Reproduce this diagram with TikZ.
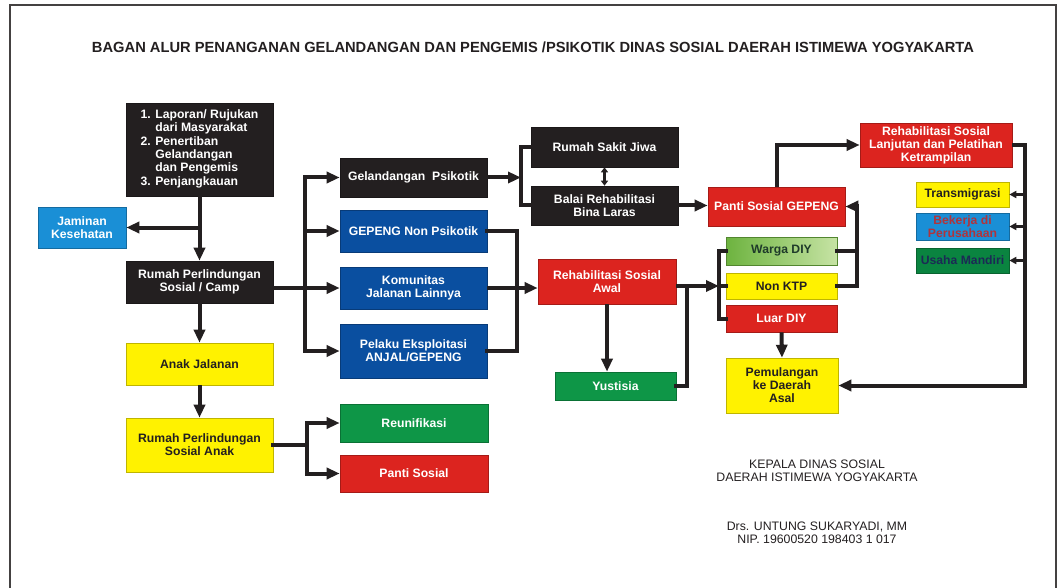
\documentclass[tikz,border=0pt]{standalone}
\usepackage{fontspec}
\setmainfont{Liberation Sans}
\usepackage{xcolor}
\usetikzlibrary{positioning, arrows.meta}
\definecolor{hitam}{HTML}{231F20}
\definecolor{biru}{HTML}{0A4FA0}
\definecolor{langit}{HTML}{1A8FD6}
\definecolor{merah}{HTML}{DC241F}
\definecolor{kuning}{HTML}{FFF200}
\definecolor{hijau}{HTML}{0E9647}
\definecolor{hijaut}{HTML}{0A8440}
\definecolor{wargaA}{HTML}{6DB33F}
\definecolor{wargaB}{HTML}{C6E3A4}
\definecolor{marun}{HTML}{B0343C}
\definecolor{navy}{HTML}{1B2A55}
\definecolor{hijaugelap}{HTML}{1F3B2A}

\begin{document}
\begin{tikzpicture}[
  x=1pt, y=-1pt,
  box/.style n args={2}{
    rectangle, fill=#1, draw=#1!75!black, line width=0.6pt, text=#2,
    font=\fontsize{12.2}{13}\selectfont\bfseries,
    align=center, inner sep=2pt
  },
  judul/.style={
    font=\fontsize{14.7}{16}\selectfont\bfseries, text=hitam, inner sep=0pt
  },
  ttd/.style={
    font=\fontsize{12.3}{13.5}\selectfont, text=hitam, align=center, inner sep=0pt
  },
  link/.style={
    line width=4pt, line cap=rect, color=hitam
  },
  flow/.style={
    line width=4pt, -{Triangle[length=13pt, width=11pt]}, color=hitam
  },
  flowsm/.style={
    line width=2.6pt, -{Triangle[length=7pt, width=7pt]}, color=hitam
  },
  dbl/.style={
    line width=2.6pt, {Triangle[length=5pt, width=7pt]}-{Triangle[length=5pt, width=7pt]}, color=hitam
  }
]

\useasboundingbox (0,0) rectangle (1057,588);
\draw[line width=2pt, color=hitam!85] (10,588) -- (10,5) -- (1056,5) -- (1056,588);

%% column x-positions
\def\xA{199.5}
\def\xB{413.5}
\def\xC{604.5}
\def\xD{781.5}
\def\xE{962.5}

%% === TITLE ===
\node[judul] (judul) at (533,47) {BAGAN ALUR PENANGANAN GELANDANGAN DAN PENGEMIS /PSIKOTIK DINAS SOSIAL DAERAH ISTIMEWA YOGYAKARTA};

%% === COLUMN 1 ===
\node[box={hitam}{white}, minimum width=147pt, minimum height=93pt] (lapor) at (\xA,149.5)
  {\begin{tabular}{@{}l@{ }l@{}}1. & Laporan/ Rujukan\\ & dari Masyarakat\\[1pt]
   2. & Penertiban\\ & Gelandangan\\ & dan Pengemis\\[1pt] 3. & Penjangkauan\end{tabular}};
\node[box={langit}{white}, minimum width=88pt, minimum height=41pt] (jamin) at (82,227.5) {Jaminan\\Kesehatan};
\node[box={hitam}{white}, minimum width=147pt, minimum height=42pt] (camp) at (\xA,282) {Rumah Perlindungan\\Sosial / Camp};
\node[box={kuning}{hitam}, minimum width=147pt, minimum height=42pt] (anak) at (\xA,364) {Anak Jalanan};
\node[box={kuning}{hitam}, minimum width=147pt, minimum height=54pt] (rpsa) at (\xA,445) {Rumah Perlindungan\\Sosial Anak};

%% === COLUMN 2 ===
\node[box={hitam}{white}, minimum width=147pt, minimum height=39pt] (psiko) at (\xB,177.5) {Gelandangan\ \ Psikotik};
\node[box={biru}{white}, minimum width=147pt, minimum height=42pt] (nonpsi) at (\xB,231) {GEPENG Non Psikotik};
\node[box={biru}{white}, minimum width=147pt, minimum height=42pt] (komun) at (\xB,288) {Komunitas\\Jalanan Lainnya};
\node[box={biru}{white}, minimum width=147pt, minimum height=54pt] (pelaku) at (\xB,351) {Pelaku Eksploitasi\\ANJAL/GEPENG};
\node[box={hijau}{white}, minimum width=148pt, minimum height=38pt] (reuni) at (414,423) {Reunifikasi};
\node[box={merah}{white}, minimum width=148pt, minimum height=37pt] (panti) at (414,473.5) {Panti Sosial};

%% === COLUMN 3 ===
\node[box={hitam}{white}, minimum width=147pt, minimum height=40pt] (rsj) at (\xC,147) {Rumah Sakit Jiwa};
\node[box={hitam}{white}, minimum width=147pt, minimum height=39pt] (balai) at (\xC,205.5) {Balai Rehabilitasi\\Bina Laras};
\node[box={merah}{white}, minimum width=138pt, minimum height=45pt] (rsawal) at (607,281.5) {Rehabilitasi Sosial\\Awal};
\node[box={hijau}{white}, minimum width=121pt, minimum height=28pt] (yust) at (615.5,386) {Yustisia};

%% === COLUMN 4 ===
\node[box={merah}{white}, minimum width=137pt, minimum height=39pt] (pgepeng) at (776.5,206.5) {Panti Sosial GEPENG};
\node[box={wargaA}{hijaugelap}, left color=wargaA, right color=wargaB, minimum width=111pt, minimum height=28pt] (warga) at (\xD,251) {Warga DIY};
\node[box={kuning}{hitam}, minimum width=111pt, minimum height=26pt] (nonktp) at (\xD,286) {Non KTP};
\node[box={merah}{white}, minimum width=111pt, minimum height=27pt] (luar) at (\xD,318.5) {Luar DIY};
\node[box={kuning}{hitam}, minimum width=112pt, minimum height=55pt] (pulang) at (782,385.5) {Pemulangan\\ke Daerah\\Asal};

%% === COLUMN 5 ===
\node[box={merah}{white}, minimum width=152pt, minimum height=44pt] (rslanjut) at (936,145) {Rehabilitasi Sosial\\Lanjutan dan Pelatihan\\Ketrampilan};
\node[box={kuning}{hitam}, minimum width=93pt, minimum height=25pt] (trans) at (\xE,194.5) {Transmigrasi};
\node[box={langit}{marun}, minimum width=93pt, minimum height=27pt] (kerja) at (\xE,226.5) {Bekerja di\\Perusahaan};
\node[box={hijaut}{navy}, minimum width=93pt, minimum height=25pt] (usaha) at (\xE,260.5) {Usaha Mandiri};

%% === SIGNATURE ===
\node[ttd] (kepala) at (817,471) {KEPALA DINAS SOSIAL\\DAERAH ISTIMEWA YOGYAKARTA};
\node[ttd] (nama) at (817,533) {Drs. UNTUNG SUKARYADI, MM\\NIP. 19600520 198403 1 017};

%% bus lines
\coordinate (busL) at (305,0);
\coordinate (busA) at (307,0);
\coordinate (busG) at (521,0);
\coordinate (busR) at (517,0);
\coordinate (busY) at (687,0);
\coordinate (busW) at (719,0);
\coordinate (busE) at (857,0);
\coordinate (busT) at (1025,0);

%% === COLUMN 1 ARROWS ===
\draw[flow] (lapor.south) -- (camp.north);
\draw[flow] (lapor.south |- jamin) -- (jamin.east);
\draw[flow] (camp.south) -- (anak.north);
\draw[flow] (anak.south) -- (rpsa.north);

%% camp -> column 2
\draw[link] (busL |- psiko) -- (busL |- pelaku);
\draw[flow] (camp.east |- komun) -- (komun.west);
\draw[flow] (busL |- psiko) -- (psiko.west);
\draw[flow] (busL |- nonpsi) -- (nonpsi.west);
\draw[flow] (busL |- pelaku) -- (pelaku.west);

%% rumah anak -> reunifikasi / panti
\draw[link] (rpsa.east) -- (busA |- rpsa);
\draw[link] (busA |- reuni) -- (busA |- panti);
\draw[flow] (busA |- reuni) -- (reuni.west);
\draw[flow] (busA |- panti) -- (panti.west);

%% psikotik -> rsj / balai
\draw[flow] (psiko.east) -- (busG |- psiko);
\draw[link] (rsj.west) -| (busG |- balai) -- (balai.west);
\draw[dbl] (rsj.south) -- (balai.north);
\draw[flow] (balai.east) -- (balai.east -| pgepeng.west);

%% non psikotik -> rehabilitasi awal
\draw[link] (nonpsi.east) -| (busR |- pelaku) -- (pelaku.east);
\draw[flow] (komun.east) -- (komun.east -| rsawal.west);
\draw[flow] (rsawal.south) -- (rsawal.south |- yust.north);
\draw[link] (yust.east) -| (busY |- nonktp);
\draw[flow] (rsawal.east |- nonktp) -- (busW |- nonktp);

%% warga / non ktp / luar
\draw[link] (warga.west) -| (busW |- luar) -- (luar.west);
\draw[link] (busW |- nonktp) -- (nonktp.west);
\draw[link] (warga.east) -- (busE |- warga);
\draw[link] (nonktp.east) -| (busE |- pgepeng);
\draw[flow] (busE |- pgepeng) -- (pgepeng.east);
\draw[flow] (luar.south) -- (pulang.north);

%% panti gepeng -> lanjutan -> outcomes
\draw[flow] (pgepeng.north) |- (rslanjut.west);
\draw[flow] (rslanjut.east) -| (busT |- pulang) -- (pulang.east);
\draw[flowsm] (busT |- trans) -- (trans.east);
\draw[flowsm] (busT |- kerja) -- (kerja.east);
\draw[flowsm] (busT |- usaha) -- (usaha.east);

\end{tikzpicture}
\end{document}
